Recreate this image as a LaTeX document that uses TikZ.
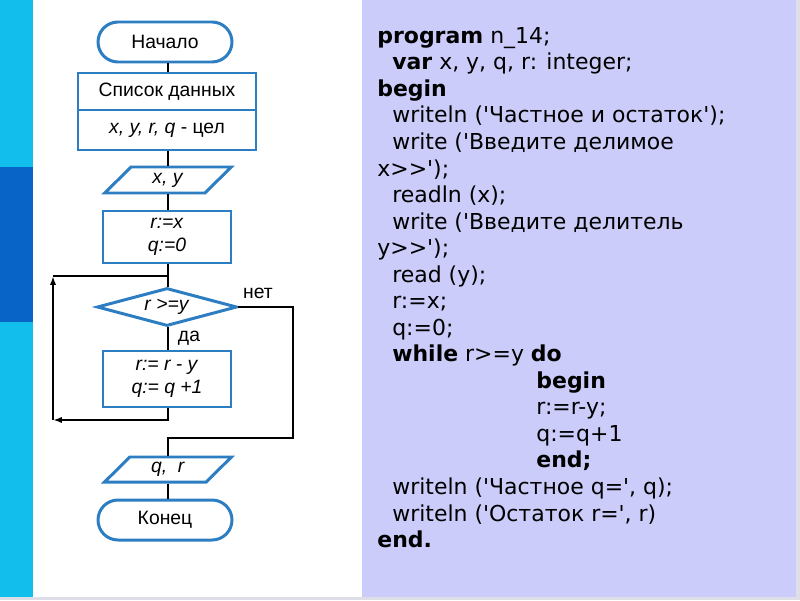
\documentclass[tikz,border=0pt]{standalone}
\usepackage{fontspec}
\setmainfont{Liberation Sans}
\newfontfamily\codefont{DejaVu Sans}
\usepackage{tikz}
\usetikzlibrary{shapes.geometric,arrows.meta,positioning,calc}
\definecolor{barcyan}{RGB}{18,190,236}
\definecolor{bardark}{RGB}{8,100,198}
\definecolor{flowblue}{RGB}{45,125,195}
\definecolor{codebg}{RGB}{204,204,250}
\definecolor{stripgrey}{RGB}{222,222,232}
\newcommand{\ind}{\hspace*{8.5pt}}
\newcommand{\indd}{\hspace*{90.5pt}}

\begin{document}
\begin{tikzpicture}[
    every node/.style={font=\fontsize{11}{13.3}\selectfont},
    term/.style={rectangle, draw=flowblue, line width=1.7pt, rounded corners=0.4cm,
                 minimum width=2.68cm, minimum height=0.8cm, inner sep=1pt},
    proc/.style={rectangle, draw=flowblue, line width=1.7pt, minimum width=2.56cm,
                 inner sep=1pt, align=center},
    io/.style={trapezium, trapezium left angle=52, trapezium right angle=128,
               trapezium stretches=true, draw=flowblue, line width=1.7pt,
               minimum width=2.54cm, minimum height=0.52cm, inner sep=0pt},
    cond/.style={diamond, aspect=3.7, draw=flowblue, line width=1.7pt, minimum width=2.8cm,
                 minimum height=0.76cm, inner sep=0pt},
    link/.style={draw=black, line width=1.1pt},
    arr/.style={link, -{Latex[length=5pt,width=3.5pt]}},
    code/.style={anchor=north west, align=left, inner sep=0pt,
                 font=\codefont\fontsize{12.5}{15.1}\selectfont}]
\useasboundingbox (0,0) rectangle (16,12);
% background: side bar, code panel
\fill[white] (0,0) rectangle (16,12);
\fill[barcyan] (0,0.06) rectangle (0.66,12);
\fill[bardark] (0,5.56) rectangle (0.66,8.66);
\fill[codebg] (7.24,0.06) rectangle (15.92,12);
\fill[stripgrey] (15.92,0) rectangle (16,12);
\fill[stripgrey] (0,0) rectangle (16,0.06);
% flowchart
\node[term] (start) at (3.3,11.16) {Начало};
\node[proc, minimum width=3.56cm, minimum height=0.74cm] (data1) at (3.34,10.17) {Список данных};
\node[proc, minimum width=3.56cm, minimum height=0.8cm] (data2) at (3.34,9.4) {\textit{x, y, r, q} - цел};
\node[io] (inp) at (3.36,8.4) {\textit{x, y}};
\node[proc, minimum height=1.04cm] (init) at (3.34,7.26) {\textit{r:=x}\\\textit{q:=0}};
\node[cond] (test) at (3.34,5.86) {\textit{r >=y}};
\node[proc, minimum height=1.12cm] (body) at (3.34,4.42) {\textit{r:= r - y}\\\textit{q:= q +1}};
\node[io, minimum height=0.5cm] (out) at (3.36,2.61) {\textit{q,\ \ r}};
\node[term] (stop) at (3.3,1.6) {Конец};
\node (yes) at (3.78,5.24) {да};
\node (no) at (5.16,6.14) {нет};
\coordinate (lb) at (1.06,3.6);
\coordinate (lt) at (1.06,6.48);
\coordinate (jn) at (3.36,6.48);
\coordinate (nr) at (5.86,5.86);
\coordinate (nb) at (5.86,3.24);
\coordinate (nm) at (3.36,3.24);
\draw[link] (start.south -| jn) -- (data1.north -| jn);
\draw[link] (data2.south -| jn) -- (inp.north -| jn);
\draw[link] (inp.south -| jn) -- (init.north -| jn);
\draw[link] (init.south -| jn) -- (test.north -| jn);
\draw[link] (test.south -| jn) -- (body.north -| jn);
% loop back
\draw[arr] (body.south -| jn) |- (lb);
\draw[arr] (lb) -- (lt);
\draw[link] (lt) -- (jn);
% exit
\draw[link] (test.east) -- (nr) -- (nb) -- (nm) -- (out.north -| nm);
\draw[link] (out.south -| nm) -- (stop.north -| nm);
% program text
\node[code] (prog) at (7.54,11.46) {%
\textbf{program} n\_14;\\
\ind\textbf{var} x, y, q, r: integer;\\
\textbf{begin}\\
\ind writeln ('Частное и остаток');\\
\ind write ('Введите делимое\\
x>>');\\
\ind readln (x);\\
\ind write ('Введите делитель\\
y>>');\\
\ind read (y);\\
\ind r:=x;\\
\ind q:=0;\\
\ind\textbf{while} r>=y \textbf{do}\\
\indd\textbf{begin}\\
\indd r:=r-y;\\
\indd q:=q+1\\
\indd\textbf{end;}\\
\ind writeln ('Частное q=', q);\\
\ind writeln ('Остаток r=', r)\\
\textbf{end.}};
\end{tikzpicture}
\end{document}
